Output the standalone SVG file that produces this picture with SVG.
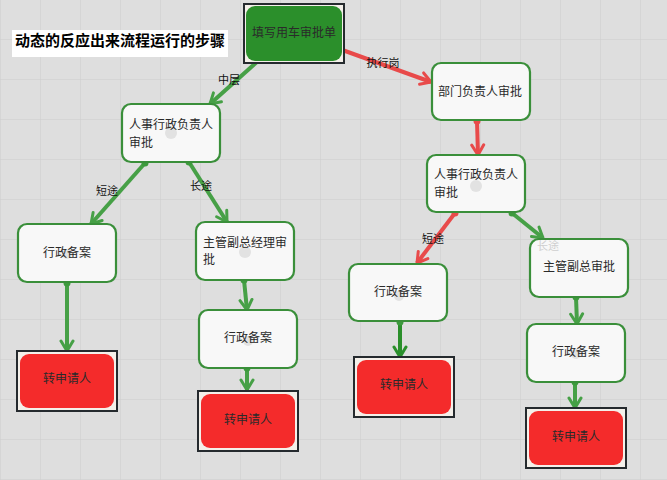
<svg xmlns="http://www.w3.org/2000/svg" width="667" height="480" viewBox="0 0 667 480">
  <defs>
    <pattern id="grid" x="1" y="0" width="40" height="40" patternUnits="userSpaceOnUse">
      <path d="M40 0 V40 M0 40 H40" fill="none" stroke="#cdcdcd" stroke-width="1"/>
    </pattern>
    <marker id="arrG" markerUnits="userSpaceOnUse" markerWidth="16" markerHeight="16" viewBox="0 0 16 16" refX="13" refY="8" orient="auto">
      <path d="M3 2 L13 8 L3 14" fill="none" stroke="#46a046" stroke-width="3" stroke-linecap="round" stroke-linejoin="round"/>
    </marker>
    <marker id="arrD" markerUnits="userSpaceOnUse" markerWidth="16" markerHeight="16" viewBox="0 0 16 16" refX="13" refY="8" orient="auto">
      <path d="M3 2 L13 8 L3 14" fill="none" stroke="#2b8f2b" stroke-width="3" stroke-linecap="round" stroke-linejoin="round"/>
    </marker>
    <marker id="arrR" markerUnits="userSpaceOnUse" markerWidth="16" markerHeight="16" viewBox="0 0 16 16" refX="13" refY="8" orient="auto">
      <path d="M3 2 L13 8 L3 14" fill="none" stroke="#e84a4a" stroke-width="3" stroke-linecap="round" stroke-linejoin="round"/>
    </marker>
  </defs>
  <style>
    text { font-family: "Noto Sans CJK SC", "Noto Sans", sans-serif; }
    .box { fill: #f8f8f8; stroke: #3a8f3a; stroke-width: 2.2; }
    .frame { fill: #f4f0ea; stroke: #252a2e; stroke-width: 2; }
    .red { fill: #f42b2b; }
    .start { fill: #2b8f2b; }
    .t { font-size: 12px; fill: #2a2a2a; }
    .tc { font-size: 12px; fill: #2a2a2a; text-anchor: middle; }
    .lbl { font-size: 11px; fill: #111; text-anchor: middle; }
    .ghost { fill: #e2e2e2; }
    .g { fill: none; stroke: #46a046; stroke-width: 4; marker-end: url(#arrG); }
    .d { fill: none; stroke: #2b8f2b; stroke-width: 4; marker-end: url(#arrD); }
    .r { fill: none; stroke: #e84a4a; stroke-width: 4; marker-end: url(#arrR); }
    .dotG { fill: #3d9a3d; }
    .dotR { fill: #e84a4a; }
  </style>

  <!-- canvas -->
  <rect width="667" height="480" fill="#dedede"/>
  <rect width="667" height="480" fill="url(#grid)"/>

  <!-- title -->
  <g id="title">
    <rect x="12" y="30" width="216" height="27" fill="#ffffff"/>
    <text x="15" y="42" font-size="15" font-weight="700" fill="#000" dominant-baseline="middle">动态的反应出来流程运行的步骤</text>
  </g>

  <!-- connectors -->
  <g id="connectors">
    <path class="g" d="M268 52 L210 104"/>
    <circle class="dotG" cx="268" cy="52" r="3.5"/>
    <text class="lbl" x="229" y="84">中层</text>

    <path class="r" d="M323 43 L431 82"/>
    <circle class="dotG" cx="323" cy="43" r="3.5"/>
    <text class="lbl" x="383" y="67">执行岗</text>

    <path class="r" d="M477 121 L478 155"/>
    <circle class="dotR" cx="477" cy="121" r="3.5"/>

    <path class="g" d="M145 163 L91 224"/>
    <circle class="dotG" cx="145" cy="163" r="3.5"/>
    <text class="lbl" x="107" y="195">短途</text>

    <path class="g" d="M189 162 L227 222"/>
    <circle class="dotG" cx="189" cy="162" r="3.5"/>
    <text class="lbl" x="201" y="190">长途</text>

    <path class="g" d="M67 283 L67 351"/>
    <circle class="dotG" cx="67" cy="283" r="3.5"/>

    <path class="g" d="M244 280 L247 310"/>
    <circle class="dotG" cx="244" cy="280" r="3.5"/>

    <path class="g" d="M247 368 L247 390"/>
    <circle class="dotG" cx="247" cy="368" r="3.5"/>

    <path class="r" d="M455 213 L417 263"/>
    <circle class="dotR" cx="455" cy="213" r="3.5"/>
    <text class="lbl" x="433" y="243">短途</text>

    <path class="g" d="M512 213 L543 238"/>
    <circle class="dotG" cx="512" cy="213" r="3.5"/>

    <path class="d" d="M400 322 L400 357"/>
    <circle class="dotG" cx="400" cy="322" r="3.5"/>

    <path class="g" d="M576 297 L577 324"/>
    <circle class="dotG" cx="576" cy="297" r="3.5"/>

    <path class="g" d="M575 382 L575 408"/>
    <circle class="dotG" cx="575" cy="382" r="3.5"/>
  </g>

  <!-- nodes -->
  <g id="n-start">
    <rect class="frame" x="244" y="4" width="100" height="59"/>
    <rect class="start" x="246" y="6" width="96" height="55" rx="9"/>
    <text class="t" x="252" y="33.5" dominant-baseline="middle" fill="#263a26">填写用车审批单</text>
  </g>

  <g id="n-dept">
    <rect class="box" x="432" y="63" width="98" height="57" rx="9"/>
    <text class="tc" x="480" y="92.5" dominant-baseline="middle">部门负责人审批</text>
  </g>

  <g id="n-hr-left">
    <rect class="box" x="122" y="104" width="98" height="58" rx="9"/>
    <circle class="ghost" cx="171" cy="133" r="6"/>
    <text class="t" x="129" y="126" dominant-baseline="middle">人事行政负责人</text>
    <text class="t" x="129" y="143.5" dominant-baseline="middle">审批</text>
  </g>

  <g id="n-hr-right">
    <rect class="box" x="427" y="155" width="98" height="57" rx="9"/>
    <circle class="ghost" cx="476" cy="186" r="6"/>
    <text class="t" x="434" y="176" dominant-baseline="middle">人事行政负责人</text>
    <text class="t" x="434" y="194" dominant-baseline="middle">审批</text>
  </g>

  <g id="n-file-1">
    <rect class="box" x="18" y="224" width="98" height="58" rx="9"/>
    <circle class="ghost" cx="67" cy="254" r="5"/>
    <text class="tc" x="67" y="253.5" dominant-baseline="middle">行政备案</text>
  </g>

  <g id="n-vp-left">
    <rect class="box" x="196" y="222" width="98" height="58" rx="9"/>
    <circle class="ghost" cx="245" cy="252" r="6"/>
    <text class="t" x="203" y="243.5" dominant-baseline="middle">主管副总经理审</text>
    <text class="t" x="203" y="261" dominant-baseline="middle">批</text>
  </g>

  <g id="n-file-2">
    <rect class="box" x="199" y="310" width="98" height="58" rx="9"/>
    <circle class="ghost" cx="248" cy="341" r="5"/>
    <text class="tc" x="248" y="339" dominant-baseline="middle">行政备案</text>
  </g>

  <g id="n-file-3">
    <rect class="box" x="349" y="264" width="98" height="57" rx="9"/>
    <circle class="ghost" cx="399" cy="296" r="5"/>
    <text class="tc" x="398" y="293" dominant-baseline="middle">行政备案</text>
  </g>

  <g id="n-vp-right">
    <rect class="box" x="530" y="239" width="98" height="58" rx="9"/>
    <text x="537" y="247" font-size="11" fill="#cfcfcf" dominant-baseline="middle">长途</text>
    <text class="tc" x="579" y="268" dominant-baseline="middle">主管副总审批</text>
  </g>

  <g id="n-file-4">
    <rect class="box" x="527" y="324" width="98" height="58" rx="9"/>
    <circle class="ghost" cx="576" cy="354" r="5"/>
    <text class="tc" x="576" y="352.5" dominant-baseline="middle">行政备案</text>
  </g>

  <g id="n-return-1">
    <rect class="frame" x="17" y="351" width="100" height="60"/>
    <rect class="red" x="20" y="354" width="94" height="54" rx="9"/>
    <text class="tc" x="67" y="380" dominant-baseline="middle">转申请人</text>
  </g>

  <g id="n-return-2">
    <rect class="frame" x="198" y="391" width="100" height="60"/>
    <rect class="red" x="201" y="394" width="94" height="54" rx="9"/>
    <text class="tc" x="248" y="421" dominant-baseline="middle">转申请人</text>
  </g>

  <g id="n-return-3">
    <rect class="frame" x="354" y="357" width="100" height="60"/>
    <rect class="red" x="357" y="360" width="94" height="54" rx="9"/>
    <text class="tc" x="404" y="386" dominant-baseline="middle">转申请人</text>
  </g>

  <g id="n-return-4">
    <rect class="frame" x="526" y="408" width="100" height="60"/>
    <rect class="red" x="529" y="411" width="94" height="54" rx="9"/>
    <text class="tc" x="576" y="438" dominant-baseline="middle">转申请人</text>
  </g>
</svg>
